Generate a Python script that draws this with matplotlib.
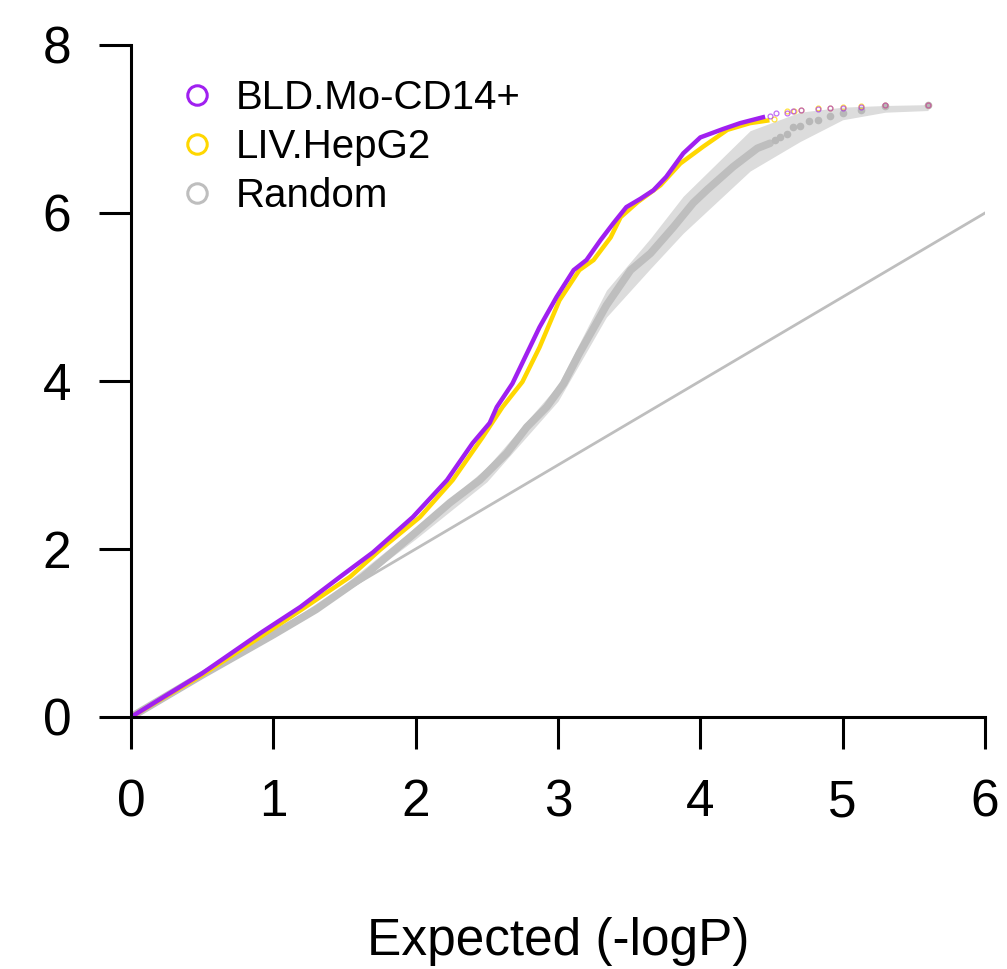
import matplotlib
matplotlib.use("Agg")
import matplotlib.pyplot as plt
from matplotlib.lines import Line2D

plt.rcParams['font.family'] = ['Liberation Sans', 'DejaVu Sans']

# BLD.Mo-CD14+ : dense part of the QQ curve, then sparse tail points
bld_exp = [0, 0.5, 0.91, 1.19, 1.47, 1.70, 1.98, 2.22, 2.40, 2.52, 2.57, 2.68, 2.87, 2.99,
           3.11, 3.20, 3.30, 3.39, 3.48, 3.58, 3.67, 3.76, 3.88, 4.0, 4.16, 4.28, 4.44]
bld_obs = [0, 0.52, 1.0, 1.31, 1.67, 1.96, 2.38, 2.82, 3.26, 3.50, 3.69, 3.97, 4.64, 5.0,
           5.32, 5.44, 5.68, 5.88, 6.07, 6.17, 6.27, 6.43, 6.71, 6.90, 7.0, 7.07, 7.14]
bld_tail_exp = [4.49, 4.53, 4.61, 4.65, 4.71, 4.83, 4.91, 5.00, 5.13, 5.30, 5.60]
bld_tail_obs = [7.15, 7.19, 7.19, 7.22, 7.23, 7.24, 7.245, 7.255, 7.265, 7.28, 7.285]

# LIV.HepG2
liv_exp = [0, 0.5, 0.95, 1.2, 1.54, 1.75, 2.03, 2.26, 2.47, 2.61, 2.75, 2.87, 3.01, 3.15,
           3.25, 3.37, 3.44, 3.56, 3.72, 3.86, 4.02, 4.19, 4.35, 4.47]
liv_obs = [0, 0.5, 1.0, 1.28, 1.67, 1.99, 2.38, 2.82, 3.33, 3.69, 3.99, 4.40, 4.96, 5.32,
           5.44, 5.71, 5.95, 6.13, 6.33, 6.59, 6.79, 6.99, 7.07, 7.10]
liv_tail_exp = [4.52, 4.61, 4.66, 4.71, 4.83, 4.91, 5.00, 5.13, 5.30, 5.60]
liv_tail_obs = [7.12, 7.22, 7.22, 7.23, 7.245, 7.245, 7.26, 7.27, 7.28, 7.285]

# Random: median curve, tail points and band
rnd_exp = [0, 0.5, 1.0, 1.3, 1.63, 1.96, 2.24, 2.45, 2.64, 2.78, 2.92, 3.04, 3.15, 3.34,
           3.51, 3.65, 3.81, 3.95, 4.05, 4.23, 4.40, 4.49]
rnd_obs = [0, 0.5, 0.98, 1.28, 1.67, 2.14, 2.55, 2.82, 3.14, 3.45, 3.69, 3.97, 4.33, 4.90,
           5.32, 5.52, 5.83, 6.12, 6.28, 6.55, 6.77, 6.83]
rnd_tail_exp = [4.525, 4.56, 4.61, 4.65, 4.70, 4.76, 4.83, 4.91, 5.00, 5.13, 5.30, 5.60]
rnd_tail_obs = [6.87, 6.90, 6.94, 7.02, 7.03, 7.09, 7.11, 7.15, 7.19, 7.23, 7.27, 7.29]
band_exp = [0, 1, 1.5, 2, 2.5, 3, 3.34, 3.65, 3.88, 4.35, 4.70, 5.0, 5.3, 5.6]
band_hi = [0, 1.01, 1.58, 2.26, 2.97, 3.95, 5.08, 5.70, 6.20, 6.98, 7.20, 7.26, 7.28, 7.29]
band_lo = [0, 0.95, 1.48, 2.12, 2.80, 3.76, 4.76, 5.34, 5.76, 6.50, 6.85, 7.11, 7.20, 7.22]

diag = [0, 6]
labels = ['BLD.Mo-CD14+', 'LIV.HepG2', 'Random']
colors = ['#A020F0', '#FFD700', '#BEBEBE']

fig = plt.figure(figsize=(10.07, 9.69), dpi=100)
ax = fig.add_axes([131 / 1007, 1 - 717 / 969, 854 / 1007, 672 / 969])

ax.fill_between(band_exp, band_lo, band_hi, color='#DCDCDC', lw=0)
ax.plot(rnd_exp, rnd_obs, color='#BEBEBE', lw=5.5, solid_capstyle='round')
ax.plot(rnd_tail_exp, rnd_tail_obs, 'o', color='#B8B8B8', ms=5.5, mec='none')
ax.plot(diag, diag, color='#BEBEBE', lw=2)

ax.plot(liv_exp, liv_obs, color=colors[1], lw=3.2)
ax.plot(liv_tail_exp, liv_tail_obs, 'o', mfc='none', mec=colors[1], ms=3.5, mew=0.9, alpha=0.75)
ax.plot(bld_exp, bld_obs, color=colors[0], lw=3.2)
ax.plot(bld_tail_exp, bld_tail_obs, 'o', mfc='none', mec=colors[0], ms=3.5, mew=0.9, alpha=0.65)

ax.set_xlim(0, 6)
ax.set_ylim(0, 8)
ax.spines['top'].set_visible(False)
ax.spines['right'].set_visible(False)
for s in ['left', 'bottom']:
    ax.spines[s].set_linewidth(2.2)
ax.set_xticks(range(0, 7))
ax.set_yticks(range(0, 9, 2))
ax.tick_params(axis='both', direction='out', length=23, width=2.2, labelsize=37)
ax.tick_params(axis='x', pad=21)
ax.tick_params(axis='y', pad=20)
ax.set_xlabel('Expected (-logP)', fontsize=37)
ax.xaxis.set_label_coords(0.5, -0.298)

handles = [Line2D([], [], ls='none', marker='o', mfc='none', mec=c, ms=14, mew=2.2) for c in colors]
ax.legend(handles, labels, loc='upper left', bbox_to_anchor=(0.040, 0.973), frameon=False,
          fontsize=29, handlelength=0.8, handletextpad=0.55, labelspacing=0.27, borderaxespad=0)

fig.savefig('out.png', dpi=100)
